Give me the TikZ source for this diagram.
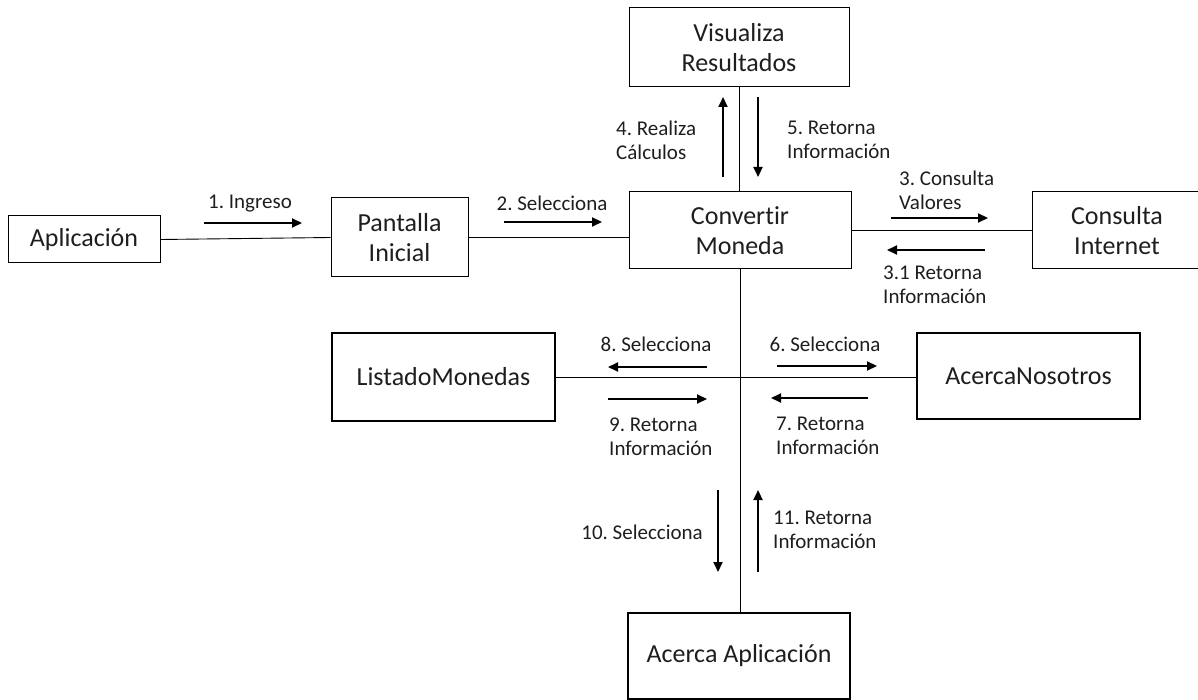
\documentclass[tikz,border=0pt]{standalone}
\usepackage{fontspec}
\setmainfont{Carlito}[Ligatures={NoCommon}]
\usetikzlibrary{arrows.meta}
\frenchspacing
\definecolor{ink}{HTML}{1E1E1E}
\begin{document}
\begin{tikzpicture}[x=1pt,y=-1pt,
  box/.style={draw=black, line width=1pt, inner sep=0pt, align=center,
    text=ink, font=\fontsize{26}{30}\selectfont},
  heavybox/.style={box, line width=2.4pt},
  link/.style={line width=0.9pt},
  msg/.style={line width=2.1pt, -{Triangle[length=10pt,width=9pt]}},
  lbl/.style={inner sep=0pt, align=left, text=ink, font=\fontsize{21}{24}\selectfont}]
\useasboundingbox (0,0) rectangle (1198,700);
\clip (0,0) rectangle (1198,700);

% components
\node[box, minimum width=152pt, minimum height=47pt] (apl) at (84,239.5) {Aplicación};
\node[box, minimum width=137pt, minimum height=79pt] (pan) at (399.5,237.5) {Pantalla\\Inicial};
\node[box, minimum width=222pt, minimum height=77pt] (conv) at (740,230.5) {Convertir\\Moneda};
\node[box, minimum width=220pt, minimum height=79pt] (vis) at (739,47.5) {Visualiza\\Resultados};
\node[box, minimum width=170pt, minimum height=77pt] (cons) at (1117,230.5) {Consulta\\Internet};
\node[heavybox, minimum width=223pt, minimum height=88pt] (list) at (443.5,377) {ListadoMonedas};
\node[heavybox, minimum width=223pt, minimum height=86pt] (acn) at (1028.5,376) {AcercaNosotros};
\node[heavybox, minimum width=222pt, minimum height=86pt] (aca) at (739,656) {Acerca Aplicación};

% links between components
\draw[link] (apl.east) -- (pan.west);
\draw[link] (pan.east) -- (pan.east -| conv.west);
\draw[link] (conv.east) -- (cons.west);
\draw[link] (vis.south) -- (vis.south |- conv.north);
\draw[link] (conv.south) -- (conv.south |- aca.north);
\draw[link] (list.east) -- (list.east -| acn.west);

% message arrow end points
\coordinate (m1a) at (204,223);  \coordinate (m1b) at (302,223);
\coordinate (m2a) at (504,222);  \coordinate (m2b) at (602,222);
\coordinate (m3a) at (891,218);  \coordinate (m3b) at (988,218);
\coordinate (m31a) at (985,250); \coordinate (m31b) at (887,250);
\coordinate (m4a) at (723,177);  \coordinate (m4b) at (723,97);
\coordinate (m5a) at (758,97);   \coordinate (m5b) at (758,177);
\coordinate (m6a) at (777,366);  \coordinate (m6b) at (877,366);
\coordinate (m7a) at (868,398);  \coordinate (m7b) at (771,398);
\coordinate (m8a) at (707,367);  \coordinate (m8b) at (608,367);
\coordinate (m9a) at (608,399);  \coordinate (m9b) at (707,399);
\coordinate (m10a) at (718,490); \coordinate (m10b) at (718,572);
\coordinate (m11a) at (758,572); \coordinate (m11b) at (758,490);

% message arrows
\foreach \m in {m1,m2,m3,m31,m4,m5,m6,m7,m8,m9,m10,m11}
  \draw[msg] (\m a) -- (\m b);

% message labels
\node[lbl] (l1) at (250,204) {1. Ingreso};
\node[lbl] (l2) at (552,203) {2. Selecciona};
\node[lbl, anchor=west] (l3) at (899,190) {3. Consulta\\Valores};
\node[lbl, anchor=west] (l31) at (883,285) {3.1 Retorna\\Información};
\node[lbl, anchor=west] (l4) at (616,140) {4. Realiza\\Cálculos};
\node[lbl, anchor=west] (l5) at (787,140) {5. Retorna\\Información};
\node[lbl] (l6) at (825,344) {6. Selecciona};
\node[lbl, anchor=west] (l7) at (776,436) {7. Retorna\\Información};
\node[lbl] (l8) at (656,344) {8. Selecciona};
\node[lbl, anchor=west] (l9) at (609,437) {9. Retorna\\Información};
\node[lbl, anchor=east] (l10) at (703,532) {10. Selecciona};
\node[lbl, anchor=west] (l11) at (773,530) {11. Retorna\\Información};
\end{tikzpicture}
\end{document}
